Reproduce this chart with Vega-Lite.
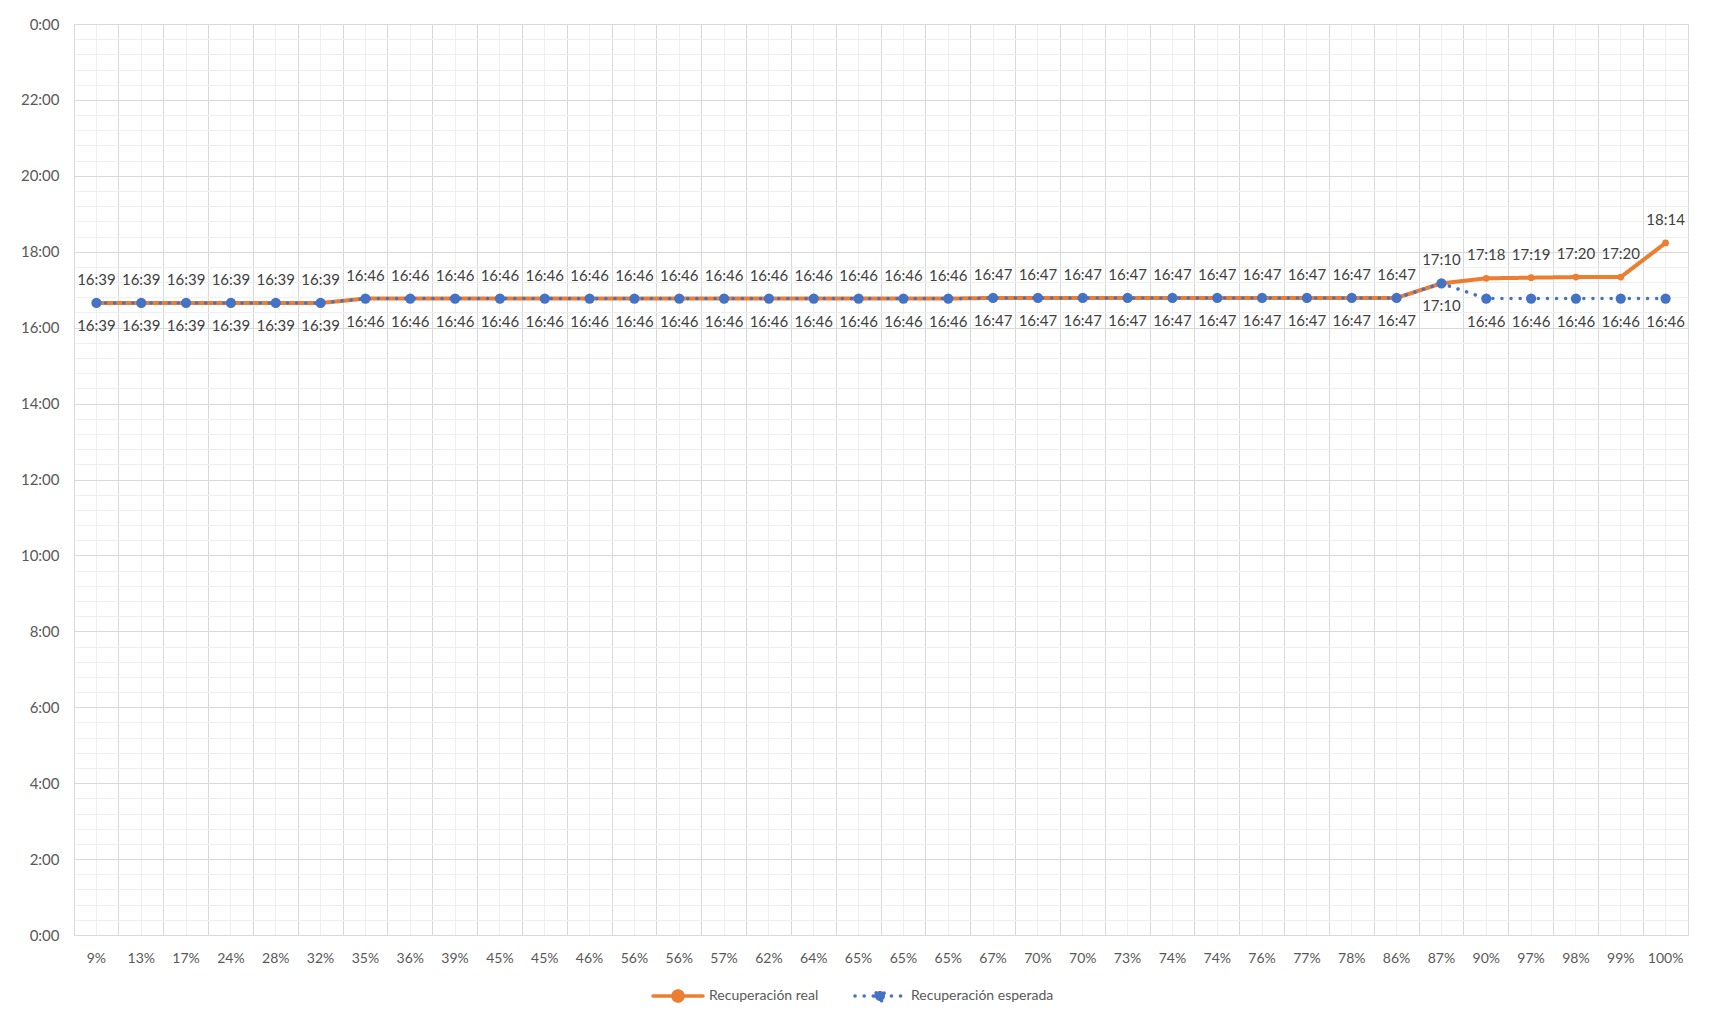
{
"$schema": "https://vega.github.io/schema/vega-lite/v6.json",
"width": 1614, "height": 911,
"autosize": {"type": "none"},
"padding": {"left": 74, "top": 24, "right": 22, "bottom": 83},
"background": "white",
"config": {"view": {"stroke": "#D9D9D9", "strokeWidth": 1}, "font": "Lato"},
"data": {"values": [
{"k":"00|9%","s":"Recuperación real","h":16.65,"t":"16:39"},
{"k":"01|13%","s":"Recuperación real","h":16.65,"t":"16:39"},
{"k":"02|17%","s":"Recuperación real","h":16.65,"t":"16:39"},
{"k":"03|24%","s":"Recuperación real","h":16.65,"t":"16:39"},
{"k":"04|28%","s":"Recuperación real","h":16.65,"t":"16:39"},
{"k":"05|32%","s":"Recuperación real","h":16.65,"t":"16:39"},
{"k":"06|35%","s":"Recuperación real","h":16.7667,"t":"16:46"},
{"k":"07|36%","s":"Recuperación real","h":16.7667,"t":"16:46"},
{"k":"08|39%","s":"Recuperación real","h":16.7667,"t":"16:46"},
{"k":"09|45%","s":"Recuperación real","h":16.7667,"t":"16:46"},
{"k":"10|45%","s":"Recuperación real","h":16.7667,"t":"16:46"},
{"k":"11|46%","s":"Recuperación real","h":16.7667,"t":"16:46"},
{"k":"12|56%","s":"Recuperación real","h":16.7667,"t":"16:46"},
{"k":"13|56%","s":"Recuperación real","h":16.7667,"t":"16:46"},
{"k":"14|57%","s":"Recuperación real","h":16.7667,"t":"16:46"},
{"k":"15|62%","s":"Recuperación real","h":16.7667,"t":"16:46"},
{"k":"16|64%","s":"Recuperación real","h":16.7667,"t":"16:46"},
{"k":"17|65%","s":"Recuperación real","h":16.7667,"t":"16:46"},
{"k":"18|65%","s":"Recuperación real","h":16.7667,"t":"16:46"},
{"k":"19|65%","s":"Recuperación real","h":16.7667,"t":"16:46"},
{"k":"20|67%","s":"Recuperación real","h":16.7833,"t":"16:47"},
{"k":"21|70%","s":"Recuperación real","h":16.7833,"t":"16:47"},
{"k":"22|70%","s":"Recuperación real","h":16.7833,"t":"16:47"},
{"k":"23|73%","s":"Recuperación real","h":16.7833,"t":"16:47"},
{"k":"24|74%","s":"Recuperación real","h":16.7833,"t":"16:47"},
{"k":"25|74%","s":"Recuperación real","h":16.7833,"t":"16:47"},
{"k":"26|76%","s":"Recuperación real","h":16.7833,"t":"16:47"},
{"k":"27|77%","s":"Recuperación real","h":16.7833,"t":"16:47"},
{"k":"28|78%","s":"Recuperación real","h":16.7833,"t":"16:47"},
{"k":"29|86%","s":"Recuperación real","h":16.7833,"t":"16:47"},
{"k":"30|87%","s":"Recuperación real","h":17.1667,"t":"17:10"},
{"k":"31|90%","s":"Recuperación real","h":17.3,"t":"17:18"},
{"k":"32|97%","s":"Recuperación real","h":17.3167,"t":"17:19"},
{"k":"33|98%","s":"Recuperación real","h":17.3333,"t":"17:20"},
{"k":"34|99%","s":"Recuperación real","h":17.3333,"t":"17:20"},
{"k":"35|100%","s":"Recuperación real","h":18.2333,"t":"18:14"},
{"k":"00|9%","s":"Recuperación esperada","h":16.65,"t":"16:39"},
{"k":"01|13%","s":"Recuperación esperada","h":16.65,"t":"16:39"},
{"k":"02|17%","s":"Recuperación esperada","h":16.65,"t":"16:39"},
{"k":"03|24%","s":"Recuperación esperada","h":16.65,"t":"16:39"},
{"k":"04|28%","s":"Recuperación esperada","h":16.65,"t":"16:39"},
{"k":"05|32%","s":"Recuperación esperada","h":16.65,"t":"16:39"},
{"k":"06|35%","s":"Recuperación esperada","h":16.7667,"t":"16:46"},
{"k":"07|36%","s":"Recuperación esperada","h":16.7667,"t":"16:46"},
{"k":"08|39%","s":"Recuperación esperada","h":16.7667,"t":"16:46"},
{"k":"09|45%","s":"Recuperación esperada","h":16.7667,"t":"16:46"},
{"k":"10|45%","s":"Recuperación esperada","h":16.7667,"t":"16:46"},
{"k":"11|46%","s":"Recuperación esperada","h":16.7667,"t":"16:46"},
{"k":"12|56%","s":"Recuperación esperada","h":16.7667,"t":"16:46"},
{"k":"13|56%","s":"Recuperación esperada","h":16.7667,"t":"16:46"},
{"k":"14|57%","s":"Recuperación esperada","h":16.7667,"t":"16:46"},
{"k":"15|62%","s":"Recuperación esperada","h":16.7667,"t":"16:46"},
{"k":"16|64%","s":"Recuperación esperada","h":16.7667,"t":"16:46"},
{"k":"17|65%","s":"Recuperación esperada","h":16.7667,"t":"16:46"},
{"k":"18|65%","s":"Recuperación esperada","h":16.7667,"t":"16:46"},
{"k":"19|65%","s":"Recuperación esperada","h":16.7667,"t":"16:46"},
{"k":"20|67%","s":"Recuperación esperada","h":16.7833,"t":"16:47"},
{"k":"21|70%","s":"Recuperación esperada","h":16.7833,"t":"16:47"},
{"k":"22|70%","s":"Recuperación esperada","h":16.7833,"t":"16:47"},
{"k":"23|73%","s":"Recuperación esperada","h":16.7833,"t":"16:47"},
{"k":"24|74%","s":"Recuperación esperada","h":16.7833,"t":"16:47"},
{"k":"25|74%","s":"Recuperación esperada","h":16.7833,"t":"16:47"},
{"k":"26|76%","s":"Recuperación esperada","h":16.7833,"t":"16:47"},
{"k":"27|77%","s":"Recuperación esperada","h":16.7833,"t":"16:47"},
{"k":"28|78%","s":"Recuperación esperada","h":16.7833,"t":"16:47"},
{"k":"29|86%","s":"Recuperación esperada","h":16.7833,"t":"16:47"},
{"k":"30|87%","s":"Recuperación esperada","h":17.1667,"t":"17:10"},
{"k":"31|90%","s":"Recuperación esperada","h":16.7667,"t":"16:46"},
{"k":"32|97%","s":"Recuperación esperada","h":16.7667,"t":"16:46"},
{"k":"33|98%","s":"Recuperación esperada","h":16.7667,"t":"16:46"},
{"k":"34|99%","s":"Recuperación esperada","h":16.7667,"t":"16:46"},
{"k":"35|100%","s":"Recuperación esperada","h":16.7667,"t":"16:46"}
]},
"resolve": {"axis": {"x": "independent", "y": "independent"}},
"layer": [
{
"transform": [{"filter": "datum.s === 'Recuperación real'"}],
"mark": {"type": "line", "strokeWidth": 4, "strokeJoin": "round", "strokeCap": "round"},
"encoding": {
"x": {"field": "k", "type": "ordinal", "sort": null, "bandPosition": 0.5,
 "scale": {"type": "band", "paddingInner": 0, "paddingOuter": 0},
 "axis": {"orient": "bottom", "bandPosition": 0.5, "grid": true, "gridColor": "#EFEFEF", "labelExpr": "split(datum.value,'|')[1]", "labelAngle": 0, "labelFont": "Lato", "labelFontSize": 14, "labelColor": "#595959", "labelPadding": 16, "labelOverlap": false, "ticks": false, "domain": false, "title": null}},
"y": {"field": "h", "type": "quantitative",
 "scale": {"domain": [0, 24], "nice": false, "zero": true},
 "axis": {"orient": "right", "values": [0.4,0.8,1.2,1.6,2.4,2.8,3.2,3.6,4.4,4.8,5.2,5.6,6.4,6.8,7.2,7.6,8.4,8.8,9.2,9.6,10.4,10.8,11.2,11.6,12.4,12.8,13.2,13.6,14.4,14.8,15.2,15.6,16.4,16.8,17.2,17.6,18.4,18.8,19.2,19.6,20.4,20.8,21.2,21.6,22.4,22.8,23.2,23.6], "grid": true, "gridColor": "#EFEFEF", "labels": false, "ticks": false, "domain": false, "title": null}},
"color": {"field": "s", "type": "nominal",
 "scale": {"domain": ["Recuperación real", "Recuperación esperada"], "range": ["#ED7D31", "#4472C4"]},
 "legend": {"orient": "none", "legendX": 577, "legendY": 945, "direction": "horizontal", "title": null, "padding": 0,
  "symbolType": "M-1,0L1,0M-0.2,0A0.2,0.2,0,1,0,0.2,0A0.2,0.2,0,1,0,-0.2,0Z", "symbolSize": 2500, "symbolStrokeWidth": 3.5,
  "labelFont": "Lato", "labelFontSize": 14, "labelColor": "#595959", "labelOffset": 4, "columnPadding": 29,
  "encode": {"symbols": {"update": {"fill": {"signal": "datum.value === 'Recuperación real' ? '#ED7D31' : '#4472C4'"}, "fillOpacity": {"value": 1}, "strokeCap": {"value": "round"}}}}}},
"strokeDash": {"field": "s", "type": "nominal",
 "scale": {"domain": ["Recuperación real", "Recuperación esperada"], "range": [[1, 0], [0.1, 9]]},
 "legend": {"orient": "none", "legendX": 577, "legendY": 945, "direction": "horizontal", "title": null, "padding": 0,
  "symbolType": "M-1,0L1,0M-0.2,0A0.2,0.2,0,1,0,0.2,0A0.2,0.2,0,1,0,-0.2,0Z", "symbolSize": 2500, "symbolStrokeWidth": 3.5,
  "labelFont": "Lato", "labelFontSize": 14, "labelColor": "#595959", "labelOffset": 4, "columnPadding": 29,
  "encode": {"symbols": {"update": {"fill": {"signal": "datum.value === 'Recuperación real' ? '#ED7D31' : '#4472C4'"}, "fillOpacity": {"value": 1}, "strokeCap": {"value": "round"}}}}}}
}
},
{
"transform": [{"filter": "datum.s === 'Recuperación real'"}],
"mark": {"type": "circle", "size": 45, "opacity": 1, "color": "#ED7D31"},
"encoding": {
"x": {"field": "k", "type": "ordinal", "sort": null, "bandPosition": 0.5, "axis": null},
"y": {"field": "h", "type": "quantitative", "axis": null}
}
},
{
"transform": [{"filter": "datum.s === 'Recuperación esperada'"}],
"mark": {"type": "line", "strokeWidth": 3.5, "strokeCap": "round", "strokeJoin": "round"},
"encoding": {
"x": {"field": "k", "type": "ordinal", "sort": null, "bandPosition": 0.5,
 "axis": {"orient": "top", "bandPosition": 0, "grid": true, "gridColor": "#D9D9D9", "labels": false, "ticks": false, "domain": false, "title": null}},
"y": {"field": "h", "type": "quantitative",
 "axis": {"orient": "left", "values": [0,2,4,6,8,10,12,14,16,18,20,22,24], "grid": true, "gridColor": "#D9D9D9", "labelExpr": "(datum.value % 24) + ':00'", "labelFont": "Lato", "labelFontSize": 15, "labelColor": "#595959", "labelPadding": 15, "ticks": false, "domain": false, "title": null}},
"color": {"field": "s", "type": "nominal"},
"strokeDash": {"field": "s", "type": "nominal"}
}
},
{
"transform": [{"filter": "datum.s === 'Recuperación esperada'"}],
"mark": {"type": "circle", "size": 105, "opacity": 1, "color": "#4472C4"},
"encoding": {
"x": {"field": "k", "type": "ordinal", "sort": null, "bandPosition": 0.5, "axis": null},
"y": {"field": "h", "type": "quantitative", "axis": null}
}
},
{
"transform": [{"filter": "datum.s === 'Recuperación real'"}],
"mark": {"type": "text", "dy": -23, "font": "Lato", "fontSize": 15, "color": "#404040", "baseline": "middle", "align": "center"},
"encoding": {
"x": {"field": "k", "type": "ordinal", "sort": null, "bandPosition": 0.5, "axis": null},
"y": {"field": "h", "type": "quantitative", "axis": null},
"text": {"field": "t", "type": "nominal"}
}
},
{
"transform": [{"filter": "datum.s === 'Recuperación esperada'"}],
"mark": {"type": "text", "dy": 23, "font": "Lato", "fontSize": 15, "color": "#404040", "baseline": "middle", "align": "center"},
"encoding": {
"x": {"field": "k", "type": "ordinal", "sort": null, "bandPosition": 0.5, "axis": null},
"y": {"field": "h", "type": "quantitative", "axis": null},
"text": {"field": "t", "type": "nominal"}
}
}
]
}
